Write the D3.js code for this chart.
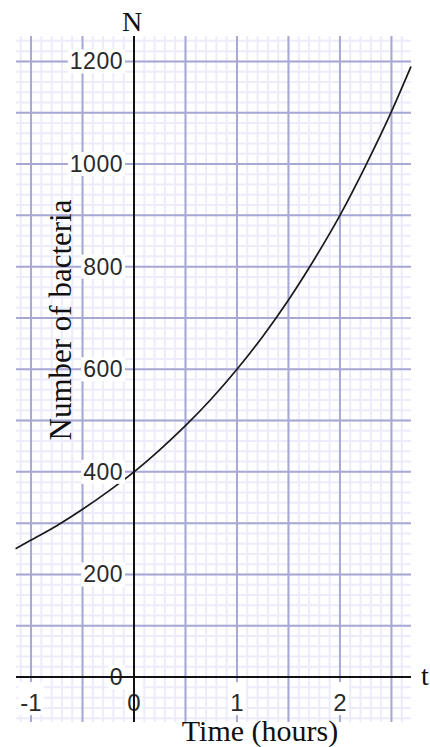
<!DOCTYPE html>
<html><head><meta charset="utf-8">
<script src="https://cdn.jsdelivr.net/npm/d3@7"></script>
<style>body{margin:0;background:#fff}svg{display:block}</style>
</head><body>
<svg id="c" width="430" height="747"></svg>
<script>
// Data
const timeHours = [-1.15, -1, -0.75, -0.5, -0.25, 0, 0.25, 0.5, 0.75, 1, 1.25, 1.5, 1.75, 2, 2.25, 2.5, 2.69];
const bacteria  = [250, 267, 295, 327, 362, 400, 443, 490, 542, 600, 664, 735, 814, 900, 997, 1102, 1190];
const xTickValues = [-1, 0, 1, 2];
const xTickLabels = ["-1", "0", "1", "2"];
const yTickValues = [0, 200, 400, 600, 800, 1000, 1200];
const yTickLabels = ["0", "200", "400", "600", "800", "1000", "1200"];
const xLabel = "Time (hours)";
const yLabel = "Number of bacteria";

const svg = d3.select("#c");
const x = d3.scaleLinear().domain([-1.146, 2.69]).range([16, 411]);
const y = d3.scaleLinear().domain([-87.5, 1249.5]).range([722, 36]);
const [x0, x1] = x.domain(), [y0, y1] = y.domain();

// minor grid
const minorX = d3.range(Math.ceil(x0 * 10), Math.floor(x1 * 10) + 1).map(d => d / 10);
const minorY = d3.range(Math.ceil(y0 / 20), Math.floor(y1 / 20) + 1).map(d => d * 20);
const g = svg.append("g");
g.selectAll(".mx").data(minorX).join("line")
  .attr("x1", d => x(d)).attr("x2", d => x(d)).attr("y1", y(y1)).attr("y2", y(y0))
  .attr("stroke", "#ececfb").attr("stroke-width", 2);
g.selectAll(".my").data(minorY).join("line")
  .attr("y1", d => y(d)).attr("y2", d => y(d)).attr("x1", x(x0)).attr("x2", x(x1))
  .attr("stroke", "#ececfb").attr("stroke-width", 2);
// major grid
const majorX = d3.range(Math.ceil(x0 * 2), Math.floor(x1 * 2) + 1).map(d => d / 2);
const majorY = d3.range(Math.ceil(y0 / 100), Math.floor(y1 / 100) + 1).map(d => d * 100);
g.selectAll(".Mx").data(majorX).join("line")
  .attr("x1", d => x(d)).attr("x2", d => x(d)).attr("y1", y(y1)).attr("y2", y(y0))
  .attr("stroke", "#a8a8d4").attr("stroke-width", 2);
g.selectAll(".My").data(majorY).join("line")
  .attr("y1", d => y(d)).attr("y2", d => y(d)).attr("x1", x(x0)).attr("x2", x(x1))
  .attr("stroke", "#a8a8d4").attr("stroke-width", 2);

// curve
const line = d3.line().x((d, i) => x(timeHours[i])).y(d => y(d)).curve(d3.curveMonotoneX);
svg.append("path").datum(bacteria).attr("d", line)
  .attr("fill", "none").attr("stroke", "#1a1a1a").attr("stroke-width", 1.7);

// y tick labels with white background
const yl = svg.append("g");
yTickValues.forEach((v, i) => {
  const t = yl.append("text").attr("x", x(0) - 11).attr("y", y(v))
    .attr("text-anchor", "end").attr("dominant-baseline", "central")
    .attr("font-family", "Liberation Sans, Arial, sans-serif").attr("font-size", 23)
    .attr("letter-spacing", 0.5)
    .attr("fill", "#2a2a2a").text(yTickLabels[i]);
  const b = t.node().getBBox();
  yl.insert("rect", "text").attr("x", b.x - 2).attr("y", y(v) - 12).attr("width", b.width + 4).attr("height", 24).attr("fill", "#fff");
});
// x tick labels
const xl = svg.append("g");
xTickValues.forEach((v, i) => {
  const t = xl.append("text").attr("x", x(v)).attr("y", 711)
    .attr("text-anchor", "middle")
    .attr("font-family", "Liberation Sans, Arial, sans-serif").attr("font-size", 24)
    .attr("fill", "#2a2a2a").text(xTickLabels[i]);
  const b = t.node().getBBox();
  xl.insert("rect", "text").attr("x", b.x - 2).attr("y", y(0) + 5).attr("width", b.width + 4).attr("height", 33).attr("fill", "#fff");
});

// axes
svg.append("line").attr("x1", x(x0)).attr("x2", x(x1)).attr("y1", y(0)).attr("y2", y(0))
  .attr("stroke", "#111").attr("stroke-width", 2);
svg.append("line").attr("x1", x(0)).attr("x2", x(0)).attr("y1", y(y1)).attr("y2", y(y0))
  .attr("stroke", "#111").attr("stroke-width", 2);

// axis names
const serif = "Liberation Serif, Times New Roman, serif";
svg.append("text").attr("x", x(0) - 2).attr("y", 31).attr("text-anchor", "middle")
  .attr("font-family", serif).attr("font-size", 28).attr("fill", "#111").text("N");
svg.append("text").attr("x", 421).attr("y", 685)
  .attr("font-family", serif).attr("font-size", 28).attr("fill", "#111").text("t");
svg.append("text").attr("x", 260).attr("y", 741).attr("text-anchor", "middle")
  .attr("font-family", serif).attr("font-size", 30).attr("fill", "#111").text(xLabel);
svg.append("text").attr("transform", "translate(71,320) rotate(-90)").attr("text-anchor", "middle")
  .attr("font-family", serif).attr("font-size", 31).attr("fill", "#111").text(yLabel);
</script>
</body></html>
